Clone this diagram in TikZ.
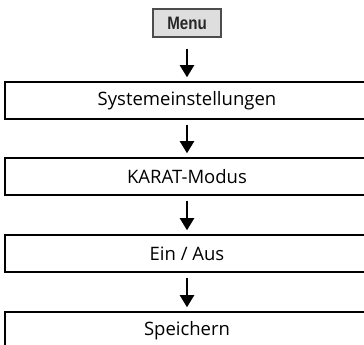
\documentclass[tikz,border=0pt]{standalone}
\usepackage{fontspec}
\setmainfont{Open Sans}
\newfontfamily\menufont[FakeStretch=0.84]{Liberation Sans}
\usetikzlibrary{arrows.meta}
\begin{document}
\begin{tikzpicture}[x=1pt,y=1pt,
  stepbox/.style={draw=black, line width=1.5pt, minimum width=364pt, minimum height=37pt, inner sep=0pt, font=\fontsize{18.5}{21}\selectfont},
  menubox/.style={draw=black!70, fill=black!13, line width=1.2pt, minimum width=68pt, minimum height=28pt, inner sep=0pt, font=\menufont\bfseries\fontsize{18}{20}\selectfont, text=black!85},
  flow/.style={line width=2pt, -{Triangle[width=14pt,length=12pt]}, shorten >=4pt}
]
\useasboundingbox (0,0) rectangle (364,345);
\node[menubox] (menu) at (187,322) {Menu};
\node[stepbox] (s1) at (187,244.5) {Systemeinstellungen};
\node[stepbox] (s2) at (187,168.5) {KARAT-Modus};
\node[stepbox] (s3) at (187,91.5) {Ein / Aus};
\node[stepbox] (s4) at (187,14.5) {Speichern};
\draw[flow, shorten <=11pt] (menu) -- (s1);
\draw[flow, shorten <=5pt] (s1) -- (s2);
\draw[flow, shorten <=5pt] (s2) -- (s3);
\draw[flow, shorten <=5pt] (s3) -- (s4);
\end{tikzpicture}
\end{document}
